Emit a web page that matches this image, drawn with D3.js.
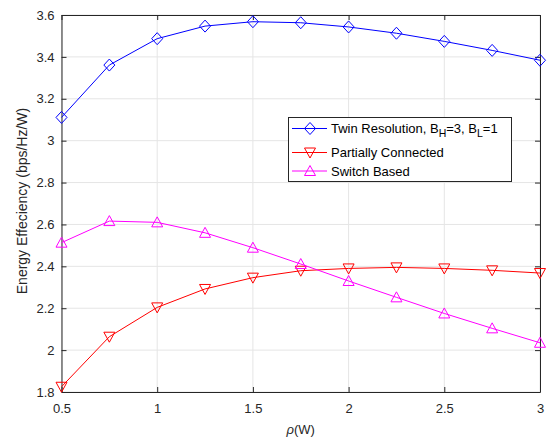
<!DOCTYPE html>
<html><head><meta charset="utf-8">
<script src="https://cdn.jsdelivr.net/npm/d3@7"></script>
<style>body{margin:0;background:#fff}svg{display:block}text{font-family:"Liberation Sans",Arial,Helvetica,sans-serif}</style>
</head><body><svg id="c" width="549" height="439"></svg>
<script>
const rho = [0.5,0.75,1,1.25,1.5,1.75,2,2.25,2.5,2.75,3];
const twin = [3.111,3.361,3.487,3.547,3.568,3.563,3.543,3.513,3.474,3.431,3.384];
const partial = [1.825,2.064,2.204,2.292,2.346,2.379,2.390,2.395,2.390,2.381,2.368];
const switchB = [2.513,2.616,2.610,2.560,2.489,2.411,2.330,2.252,2.175,2.104,2.035];
const xTicks = [0.5,1,1.5,2,2.5,3];
const yTicks = [1.8,2,2.2,2.4,2.6,2.8,3,3.2,3.4,3.6];
const seriesNames = ["Twin Resolution", "Partially Connected", "Switch Based"];

const svg = d3.select("#c");
const L=61.5, R=540, T=15, B=392;
const x = d3.scaleLinear().domain([0.5,3]).range([L,R]);
const y = d3.scaleLinear().domain([1.8,3.6]).range([B,T]);

// grid
const g = svg.append("g");
g.selectAll(".gx").data(xTicks).enter().append("line")
 .attr("x1",d=>x(d)).attr("x2",d=>x(d)).attr("y1",T).attr("y2",B)
 .attr("stroke","#e5e5e5").attr("stroke-width",1);
g.selectAll(".gy").data(yTicks).enter().append("line")
 .attr("y1",d=>y(d)).attr("y2",d=>y(d)).attr("x1",L).attr("x2",R)
 .attr("stroke","#e5e5e5").attr("stroke-width",1);

// axes
const fmt = d=>String(+d.toFixed(1));
const axB = svg.append("g").attr("transform",`translate(0,${B})`)
 .call(d3.axisBottom(x).tickValues(xTicks).tickFormat(fmt).tickSizeInner(-5).tickSizeOuter(0).tickPadding(11.5));
const axL = svg.append("g").attr("transform",`translate(${L},0)`)
 .call(d3.axisLeft(y).tickValues(yTicks).tickFormat(fmt).tickSizeInner(-5).tickSizeOuter(0).tickPadding(7));
const axT = svg.append("g").attr("transform",`translate(0,${T})`)
 .call(d3.axisTop(x).tickValues(xTicks).tickFormat("").tickSizeInner(-5).tickSizeOuter(0));
const axR = svg.append("g").attr("transform",`translate(${R},0)`)
 .call(d3.axisRight(y).tickValues(yTicks).tickFormat("").tickSizeInner(-5).tickSizeOuter(0));
[axB,axL,axT,axR].forEach(a=>{
 a.select(".domain").attr("stroke","#262626");
 a.selectAll(".tick line").attr("stroke","#262626");
 a.selectAll(".tick text").attr("fill","#262626").style("font-size","13px").style("font-family","'Liberation Sans',Arial,sans-serif");
});

// series
const series = [
 {v:twin, c:"#0000ff", m:"diamond"},
 {v:partial, c:"#ff0000", m:"down"},
 {v:switchB, c:"#ff00ff", m:"up"}
];
function marker(sel, type, cx, cy, color){
 let p;
 if(type==="diamond") p=`M${cx},${cy-6}L${cx+5.5},${cy}L${cx},${cy+6}L${cx-5.5},${cy}Z`;
 else if(type==="down") p=`M${cx-5.5},${cy-4.5}L${cx+5.5},${cy-4.5}L${cx},${cy+5.5}Z`;
 else p=`M${cx-5.5},${cy+4.5}L${cx+5.5},${cy+4.5}L${cx},${cy-5.5}Z`;
 sel.append("path").attr("d",p).attr("fill","none").attr("stroke",color).attr("stroke-width",1);
}
const line = d3.line().x((d,i)=>x(rho[i])).y(d=>y(d));
series.forEach(s=>{
 svg.append("path").datum(s.v).attr("d",line).attr("fill","none").attr("stroke",s.c).attr("stroke-width",1);
 const mg = svg.append("g");
 s.v.forEach((v,i)=>marker(mg,s.m,x(rho[i]),y(v),s.c));
});

// legend
const lg = svg.append("g");
lg.append("rect").attr("x",288.5).attr("y",117.5).attr("width",223).attr("height",64)
 .attr("fill","#fff").attr("stroke","#262626").attr("stroke-width",1);
const rows=[128.5,152.5,171];
series.forEach((s,i)=>{
 lg.append("line").attr("x1",292).attr("x2",327).attr("y1",rows[i]).attr("y2",rows[i]).attr("stroke",s.c);
 marker(lg,s.m,310,rows[i],s.c);
});
const t0 = lg.append("text").attr("x",331).attr("y",rows[0]+4.5).attr("fill","#000").style("font-size","13px");
t0.append("tspan").text("Twin Resolution, B");
t0.append("tspan").attr("dy",4).style("font-size","10.5px").text("H");
t0.append("tspan").attr("dy",-4).text("=3, B");
t0.append("tspan").attr("dy",4).style("font-size","10.5px").text("L");
t0.append("tspan").attr("dy",-4).text("=1");
lg.append("text").attr("x",331).attr("y",rows[1]+4.5).style("font-size","13px").text(seriesNames[1]);
lg.append("text").attr("x",331).attr("y",rows[2]+4.5).style("font-size","13px").text(seriesNames[2]);

// axis labels
const xl = svg.append("text").attr("x",(L+R)/2).attr("y",434).attr("text-anchor","middle").attr("fill","#262626").style("font-size","13px");
xl.append("tspan").style("font-style","italic").text("ρ");
xl.append("tspan").text("(W)");
svg.append("text").attr("transform",`translate(27,201) rotate(-90)`).attr("text-anchor","middle")
 .attr("fill","#262626").style("font-size","14px").text("Energy Effeciency (bps/Hz/W)");
</script></body></html>
